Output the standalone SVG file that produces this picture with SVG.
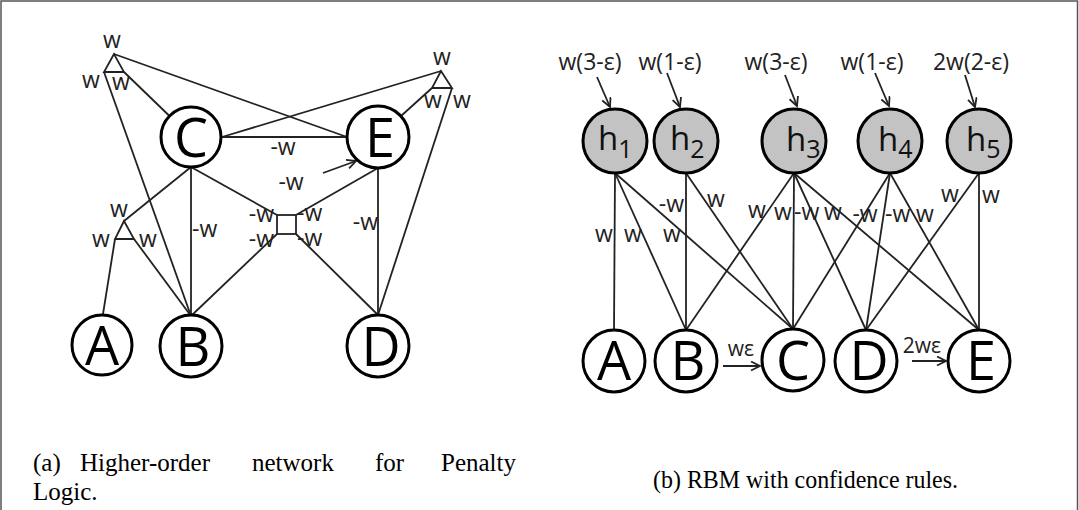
<svg xmlns="http://www.w3.org/2000/svg" width="1079" height="510" viewBox="0 0 1079 510">
<defs>
<style>
.e{stroke:#222;stroke-width:1.8;fill:none}
.n{fill:#fff;stroke:#000;stroke-width:3}
.h{fill:#c3c3c3;stroke:#000;stroke-width:3}
.big{font-family:"Open Sans","DejaVu Sans",sans-serif;font-size:54px;fill:#000;text-anchor:middle}
.lb{font-family:"Open Sans","DejaVu Sans",sans-serif;font-size:23px;fill:#222}
.c{text-anchor:middle}
.r{text-anchor:end}
.hx{font-family:"Open Sans","DejaVu Sans",sans-serif;font-size:33px;fill:#111}
.cap{font-family:"Liberation Serif","Times New Roman",serif;font-size:25px;fill:#000}
</style>
<marker id="ah" markerWidth="12" markerHeight="12" refX="10" refY="5" orient="auto" markerUnits="userSpaceOnUse">
<path d="M1,0.5 L10,5 L1,9.5" fill="none" stroke="#222" stroke-width="1.8"/>
</marker>
</defs>
<rect width="1079" height="510" fill="#fff"/>
<path d="M1,510 V1 H1077.5 V510" fill="none" stroke="#555" stroke-width="1.5"/>

<!-- Left panel connectors -->
<g id="connectors-a">
<line class="e" x1="114" y1="54" x2="347" y2="137"/>
<line class="e" x1="124" y1="72" x2="169.5" y2="116"/>
<line class="e" x1="104" y1="72" x2="191" y2="316"/>
<line class="e" x1="441" y1="71" x2="222" y2="137"/>
<line class="e" x1="432" y1="88" x2="401" y2="116"/>
<line class="e" x1="452" y1="88" x2="378" y2="315"/>
<line class="e" x1="222" y1="137" x2="347" y2="137"/>
<line class="e" x1="191" y1="167" x2="191" y2="315"/>
<line class="e" x1="191" y1="167" x2="124" y2="221"/>
<line class="e" x1="191" y1="167" x2="277" y2="215"/>
<line class="e" x1="378" y1="168" x2="296" y2="215"/>
<line class="e" x1="378" y1="168" x2="378" y2="315"/>
<line class="e" x1="277" y1="234" x2="191" y2="316"/>
<line class="e" x1="296" y1="234" x2="378" y2="315"/>
<line class="e" x1="115" y1="239" x2="103" y2="314"/>
<line class="e" x1="134" y1="239" x2="191" y2="316"/>
<line class="e" x1="323" y1="173" x2="356" y2="161" marker-end="url(#ah)"/>
<polygon class="e" points="114,54 104,72 124,72"/>
<polygon class="e" points="441,71 432,88 452,88"/>
<polygon class="e" points="124,221 115,239 134,239"/>
<rect class="e" x="277" y="215" width="19" height="19"/>
</g>
<g id="labels-a">
<text class="lb c" x="112" y="48">w</text>
<text class="lb c" x="91" y="88">w</text>
<text class="lb c" x="121" y="90">w</text>
<text class="lb c" x="442" y="65">w</text>
<text class="lb c" x="433" y="108">w</text>
<text class="lb c" x="462" y="108">w</text>
<text class="lb c" x="119" y="217">w</text>
<text class="lb c" x="101" y="247">w</text>
<text class="lb c" x="148" y="247">w</text>
<text class="lb" x="192" y="237">-w</text>
<text class="lb r" x="274" y="222">-w</text>
<text class="lb r" x="274" y="247">-w</text>
<text class="lb" x="297" y="221">-w</text>
<text class="lb" x="297" y="246">-w</text>
<text class="lb r" x="378" y="230">-w</text>
<text class="lb c" x="283" y="155">-w</text>
<text class="lb c" x="291" y="190">-w</text>
</g>
<g id="a-C"><circle class="n" cx="191" cy="137" r="30"/><text class="big" x="191" y="157">C</text></g>
<g id="a-E"><circle class="n" cx="378" cy="137" r="31"/><text class="big" x="380" y="157">E</text></g>
<g id="a-A"><circle class="n" cx="102" cy="345" r="30"/><text class="big" x="102" y="365">A</text></g>
<g id="a-B"><circle class="n" cx="191" cy="346" r="31"/><text class="big" x="193" y="366">B</text></g>
<g id="a-D"><circle class="n" cx="378" cy="346" r="31"/><text class="big" x="381" y="366">D</text></g>

<!-- Right panel connectors -->
<g id="connectors-b">
<line class="e" x1="615" y1="173" x2="614" y2="330"/>
<line class="e" x1="615" y1="173" x2="686" y2="330"/>
<line class="e" x1="615" y1="173" x2="793" y2="329"/>
<line class="e" x1="686" y1="173" x2="686" y2="330"/>
<line class="e" x1="686" y1="173" x2="793" y2="329"/>
<line class="e" x1="794" y1="173" x2="686" y2="330"/>
<line class="e" x1="794" y1="173" x2="793" y2="329"/>
<line class="e" x1="794" y1="173" x2="866" y2="330"/>
<line class="e" x1="794" y1="173" x2="979" y2="330"/>
<line class="e" x1="890" y1="173" x2="793" y2="329"/>
<line class="e" x1="890" y1="173" x2="866" y2="330"/>
<line class="e" x1="890" y1="173" x2="979" y2="330"/>
<line class="e" x1="979" y1="173" x2="866" y2="330"/>
<line class="e" x1="979" y1="173" x2="979" y2="330"/>
<line class="e" x1="597" y1="77" x2="610" y2="107" marker-end="url(#ah)"/>
<line class="e" x1="667" y1="73" x2="680" y2="107" marker-end="url(#ah)"/>
<line class="e" x1="785" y1="75" x2="797" y2="106" marker-end="url(#ah)"/>
<line class="e" x1="875" y1="73" x2="889" y2="106" marker-end="url(#ah)"/>
<line class="e" x1="965" y1="75" x2="975" y2="107" marker-end="url(#ah)"/>
<line class="e" x1="723" y1="366" x2="760" y2="366" marker-end="url(#ah)"/>
<line class="e" x1="912" y1="361" x2="946" y2="361" marker-end="url(#ah)"/>
</g>
<g id="labels-b">
<text class="lb c" x="590" y="70">w(3-ε)</text>
<text class="lb c" x="670" y="70">w(1-ε)</text>
<text class="lb c" x="776" y="70">w(3-ε)</text>
<text class="lb c" x="872" y="70">w(1-ε)</text>
<text class="lb c" x="971" y="70">2w(2-ε)</text>
<text class="lb c" x="604" y="242">w</text>
<text class="lb c" x="633" y="242">w</text>
<text class="lb c" x="672" y="242">w</text>
<text class="lb r" x="684" y="212">-w</text>
<text class="lb c" x="716" y="207">w</text>
<text class="lb c" x="757" y="218">w</text>
<text class="lb c" x="783" y="220">w</text>
<text class="lb" x="794" y="220">-w</text>
<text class="lb c" x="833" y="220">w</text>
<text class="lb c" x="865" y="222">-w</text>
<text class="lb" x="885" y="222">-w</text>
<text class="lb c" x="925" y="222">w</text>
<text class="lb c" x="950" y="202">w</text>
<text class="lb c" x="991" y="203">w</text>
<text class="lb c" x="741" y="356" style="font-size:21px">wε</text>
<text class="lb c" x="922" y="353" style="font-size:21px">2wε</text>
</g>
<g id="h1"><circle class="h" cx="615" cy="141" r="32"/><text class="hx" x="598" y="150">h<tspan font-size="25" dy="8">1</tspan></text></g>
<g id="h2"><circle class="h" cx="686" cy="141" r="32"/><text class="hx" x="670" y="150">h<tspan font-size="25" dy="8">2</tspan></text></g>
<g id="h3"><circle class="h" cx="794" cy="141" r="32"/><text class="hx" x="786" y="151">h<tspan font-size="25" dy="7">3</tspan></text></g>
<g id="h4"><circle class="h" cx="890" cy="141" r="32"/><text class="hx" x="878" y="151">h<tspan font-size="25" dy="7">4</tspan></text></g>
<g id="h5"><circle class="h" cx="979" cy="141" r="32"/><text class="hx" x="966" y="151">h<tspan font-size="25" dy="7">5</tspan></text></g>
<g id="b-A"><circle class="n" cx="614" cy="361" r="31"/><text class="big" x="614" y="380">A</text></g>
<g id="b-B"><circle class="n" cx="686" cy="361" r="31"/><text class="big" x="688" y="380">B</text></g>
<g id="b-C"><circle class="n" cx="793" cy="360" r="31"/><text class="big" x="793" y="380">C</text></g>
<g id="b-D"><circle class="n" cx="866" cy="361" r="31"/><text class="big" x="869" y="380">D</text></g>
<g id="b-E"><circle class="n" cx="979" cy="361" r="31"/><text class="big" x="981" y="380">E</text></g>

<g id="captions">
<text class="cap" y="471"><tspan x="33">(a)</tspan><tspan x="80">Higher-order</tspan><tspan x="252">network</tspan><tspan x="375">for</tspan><tspan x="441">Penalty</tspan></text>
<text class="cap" x="33" y="500">Logic.</text>
<text class="cap" x="653" y="488" textLength="305" lengthAdjust="spacingAndGlyphs">(b) RBM with confidence rules.</text>
</g>
</svg>
